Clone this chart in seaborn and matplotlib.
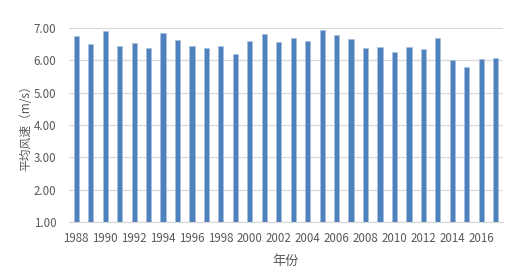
import matplotlib
matplotlib.use("Agg")
import matplotlib.pyplot as plt
import seaborn as sns
import pandas as pd

years = list(range(1988, 2018))
speeds = [6.74, 6.52, 6.91, 6.45, 6.55, 6.37, 6.85, 6.63, 6.44, 6.38,
          6.46, 6.19, 6.60, 6.81, 6.57, 6.70, 6.60, 6.93, 6.78, 6.65,
          6.37, 6.43, 6.27, 6.43, 6.36, 6.68, 6.00, 5.80, 6.04, 6.07]
yticks = [1, 2, 3, 4, 5, 6, 7]
xlabel = "年份"
ylabel = "平均风速（m/s）"

sns.set_theme(style="white")
plt.rcParams['font.family'] = ['Noto Sans CJK SC', 'DejaVu Sans']

df = pd.DataFrame({"year": [str(y) for y in years], "speed": speeds})

fig = plt.figure(figsize=(5.19, 2.78), dpi=100)
ax = fig.add_axes([0.133, 0.201, 0.836, 0.698])
sns.barplot(data=df, x="year", y="speed", color="#4F81BD", saturation=1,
            width=0.36, ax=ax, zorder=3)
for p in ax.patches:
    p.set_edgecolor("#A9C0E0")
    p.set_linewidth(0.4)

ax.set_ylim(1, 7)
ax.set_xlim(-0.5, len(years) - 0.5)
ax.set_yticks(yticks)
ax.set_yticklabels([f"{v:.2f}" for v in yticks])
ax.yaxis.grid(True, color="#D9D9D9", linewidth=0.9, zorder=0)
ax.set_axisbelow(True)
ax.set_xticks(range(0, len(years), 2))
ax.set_xticklabels([str(y) for y in years[::2]])
ax.tick_params(axis="both", labelsize=8.3, colors="#595959", length=0)
ax.tick_params(axis="x", pad=7)
ax.tick_params(axis="y", pad=9)
for s in ["top", "right", "left"]:
    ax.spines[s].set_visible(False)
ax.spines["bottom"].set_color("#D9D9D9")
ax.spines["bottom"].set_linewidth(0.9)
ax.set_xlabel(xlabel, fontsize=9.5, color="#595959", labelpad=7)
ax.set_ylabel(ylabel, fontsize=8.5, color="#595959", labelpad=1)

fig.savefig("out.png", dpi=100)
